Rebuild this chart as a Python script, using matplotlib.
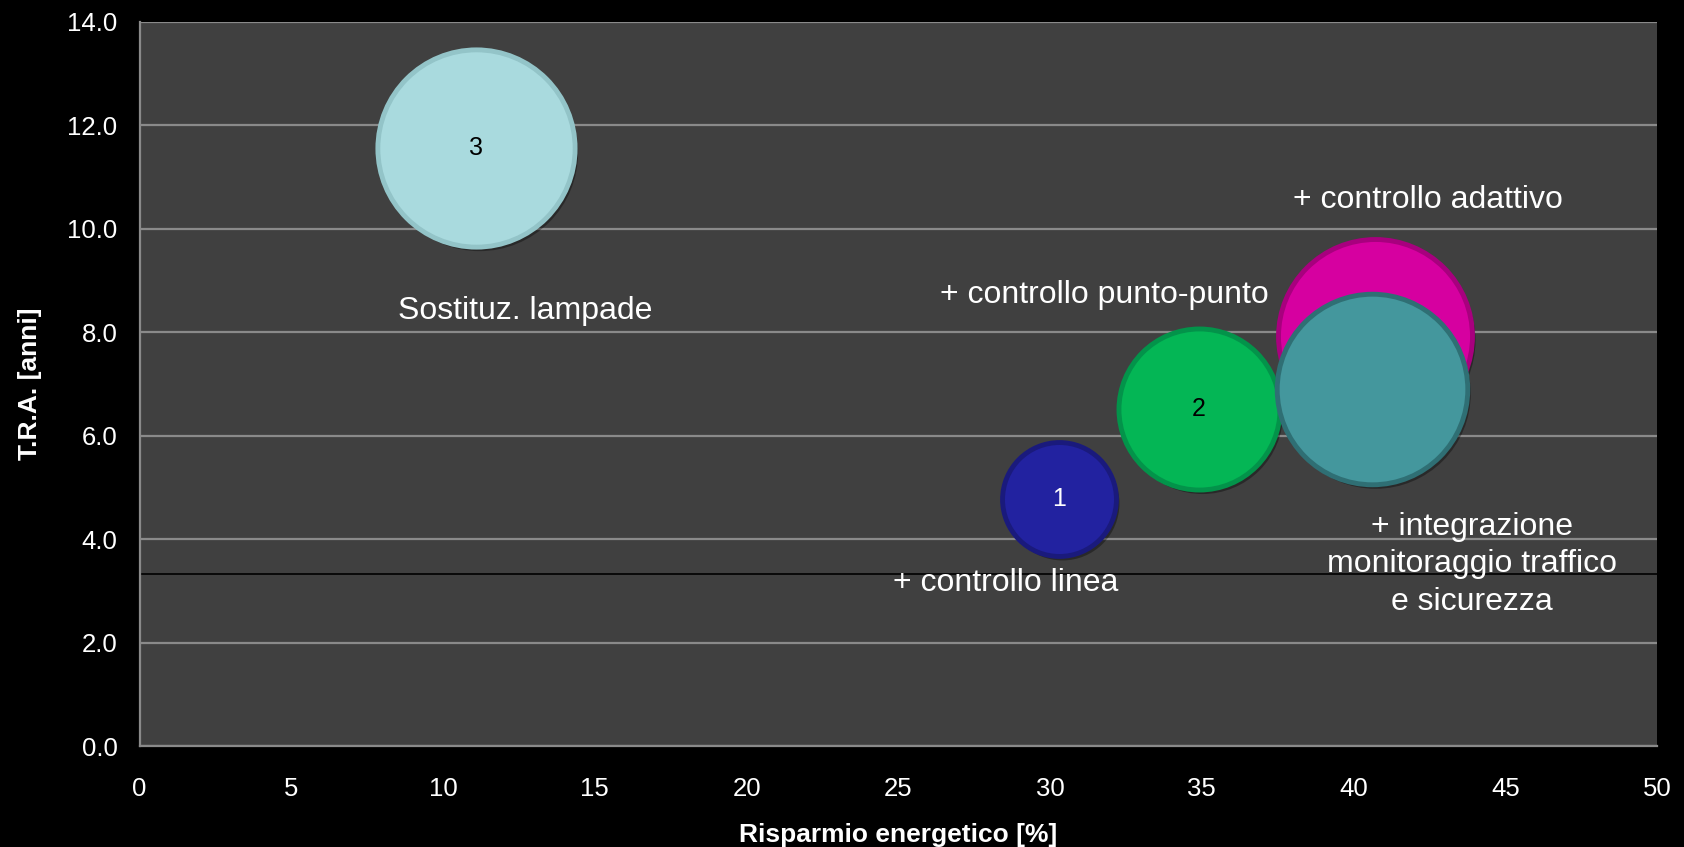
import matplotlib.pyplot as plt
import matplotlib.transforms as mtransforms

plt.rcParams['font.family'] = ['Liberation Sans', 'DejaVu Sans']

# bubble data: energy saving [%], payback time [years], bubble size
savings = [11.1, 30.3, 34.9, 40.7, 40.6]
payback = [11.55, 4.77, 6.51, 7.92, 6.9]
sizes = [3, 1, 2, 2.9, 2.8]
bubble_labels = ["3", "1", "2", "", ""]
colors = ["#a9dade", "#2222a0", "#04b655", "#d600a0", "#44979d"]
edges = ["#93c4c8", "#1a1a7c", "#03934a", "#a8007e", "#2f6f74"]
label_colors = ["black", "white", "black", "black", "black"]

notes = ["Sostituz. lampade", "+ controllo linea", "+ controllo punto-punto",
         "+ controllo adattivo",
         "+ integrazione\nmonitoraggio traffico\ne sicurezza"]
note_x = [12.7, 28.55, 31.8, 42.45, 43.9]
note_y = [8.4, 3.15, 8.72, 10.56, 3.51]

x_ticks = list(range(0, 55, 5))
y_ticks = [0, 2, 4, 6, 8, 10, 12, 14]

fig = plt.figure(figsize=(16.84, 8.47), dpi=100, facecolor="black")
ax = fig.add_axes([0.0829, 0.1192, 0.9011, 0.8554])
ax.set_facecolor("#404040")

ax.set_xlim(0, 50)
ax.set_ylim(0, 14)
ax.set_xticks(x_ticks)
ax.set_yticks(y_ticks)
ax.set_yticklabels([f"{v:.1f}" for v in y_ticks])
ax.tick_params(colors="white", labelsize=18.5, length=0)
ax.tick_params(axis="x", pad=22)
ax.tick_params(axis="y", pad=16)
ax.grid(axis="y", color="#8a8a8a", lw=1.6)
ax.set_axisbelow(True)
for s in ["top", "right"]:
    ax.spines[s].set_visible(False)
for s in ["left", "bottom"]:
    ax.spines[s].set_color("#8a8a8a")
    ax.spines[s].set_linewidth(1.6)

ax.axhline(3.32, color="black", lw=1.2, zorder=1.5)

unit = 82 ** 2  # marker area (pt^2) for size 1
shadow = mtransforms.offset_copy(ax.transData, fig=fig, x=2, y=-3, units="points")
for i in range(len(savings)):
    ax.scatter(savings[i], payback[i], s=sizes[i] * unit, color="black",
               alpha=0.35, lw=0, transform=shadow, zorder=2 + i)
    ax.scatter(savings[i], payback[i], s=sizes[i] * unit, color=colors[i],
               edgecolors=edges[i], linewidths=3.5, zorder=2 + i)
    if bubble_labels[i]:
        ax.text(savings[i], payback[i], bubble_labels[i], color=label_colors[i],
                fontsize=18, ha="center", va="center", zorder=10)

for t, x, y in zip(notes, note_x, note_y):
    ax.text(x, y, t, color="white", fontsize=23, ha="center", va="center",
            linespacing=1.32, zorder=10)

ax.set_xlabel("Risparmio energetico [%]", color="white", fontsize=19,
              fontweight="bold", labelpad=16)
ax.set_ylabel("T.R.A. [anni]", color="white", fontsize=19,
              fontweight="bold", labelpad=18)

fig.savefig("out.png", dpi=100, facecolor="black")
